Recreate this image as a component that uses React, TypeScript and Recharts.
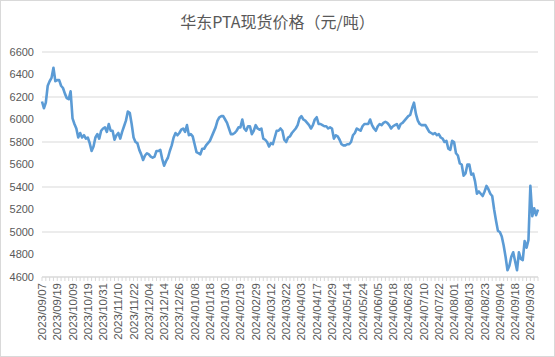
import React from "react";
import { LineChart, Line, XAxis, YAxis, CartesianGrid } from "recharts";

const title = "华东PTA现货价格（元/吨）";

const tickLabels = [
  "2023/09/07", "2023/09/19", "2023/10/09", "2023/10/19", "2023/10/31", "2023/11/10",
  "2023/11/22", "2023/12/04", "2023/12/14", "2023/12/26", "2024/01/08", "2024/01/18",
  "2024/01/30", "2024/02/19", "2024/02/29", "2024/03/12", "2024/03/22", "2024/04/03",
  "2024/04/17", "2024/04/29", "2024/05/14", "2024/05/24", "2024/06/05", "2024/06/18",
  "2024/06/28", "2024/07/10", "2024/07/22", "2024/08/01", "2024/08/13", "2024/08/23",
  "2024/09/04", "2024/09/18", "2024/09/30",
];

const prices = [
  6160, 6100, 6150, 6300, 6340, 6370, 6460, 6340, 6350, 6350,
  6300, 6280, 6230, 6190, 6180, 6250, 6010, 5960, 5920, 5840,
  5880, 5840, 5860, 5830, 5840, 5790, 5720, 5760, 5840, 5870,
  5830, 5900, 5920, 5930, 5890, 5960, 5900, 5900, 5820, 5860,
  5880, 5830, 5890, 5940, 5990, 6070, 6060, 5960, 5840, 5800,
  5790, 5730, 5690, 5640, 5680, 5700, 5690, 5670, 5660, 5670,
  5720, 5720, 5730, 5650, 5590, 5630, 5660, 5720, 5770, 5840,
  5880, 5860, 5880, 5910, 5920, 5890, 5950, 5860, 5870, 5850,
  5780, 5710, 5700, 5690, 5740, 5740, 5770, 5790, 5810, 5850,
  5890, 5930, 5990, 6020, 6030, 6030, 6000, 5970, 5920, 5870,
  5870, 5880, 5900, 5930, 5930, 6000, 5920, 5900, 5940, 5940,
  5870, 5900, 5950, 5920, 5910, 5920, 5830, 5820, 5800, 5760,
  5790, 5780, 5840, 5900, 5900, 5920, 5900, 5820, 5800, 5840,
  5850, 5880, 5900, 5920, 5950, 6010, 6030, 6000, 5990, 5970,
  5950, 5920, 5950, 6000, 6020, 5960, 5960, 5950, 5940, 5940,
  5920, 5930, 5920, 5830, 5860, 5850, 5820, 5780, 5770, 5770,
  5780, 5780, 5800, 5860, 5880, 5920, 5910, 5900, 5940, 5960,
  5960, 5960, 6000, 5950, 5920, 5900, 5940, 5960, 5950, 5970,
  5980, 5970, 5950, 5920, 5940, 5950, 5960, 5920, 5960, 5970,
  5990, 6010, 6030, 6040, 6100, 6150, 6050, 5990, 5960, 5950,
  5950, 5950, 5920, 5890, 5880, 5870, 5880, 5860, 5870, 5840,
  5830, 5800, 5810, 5740, 5730, 5810, 5800, 5700, 5680, 5610,
  5600, 5500, 5520, 5600, 5600, 5510, 5520, 5450, 5340, 5360,
  5340, 5320, 5360, 5410, 5380, 5340, 5320, 5200, 5100, 5010,
  5000, 4960, 4880, 4780, 4660, 4700, 4780, 4820, 4740, 4660,
  4820, 4760, 4750, 4920, 4860, 4930, 5410, 5140, 5210, 5150,
  5200,
];

const yTicks = [4600, 4800, 5000, 5200, 5400, 5600, 5800, 6000, 6200, 6400, 6600];

const data = prices.map((price, idx) => ({ idx, price }));

const axisFont = "'Liberation Sans', Arial, sans-serif";

const XTick = (props: any) => {
  const { x, y, payload } = props;
  const i = Number(payload.value);
  const elems: any[] = [];
  if (i % 2 === 0) {
    elems.push(<line key="l" x1={x} x2={x} y1={y} y2={y + 4} stroke="#d9d9d9" strokeWidth={1} />);
  }
  if (i % 8 === 0 && tickLabels[i / 8]) {
    const ty = y + 6;
    elems.push(
      <text
        key="t"
        x={x}
        y={ty}
        dy="0.35em"
        transform={`rotate(-90 ${x} ${ty})`}
        textAnchor="end"
        fontSize={11.5}
        fontFamily={axisFont}
        fill="#595959"
      >
        {tickLabels[i / 8]}
      </text>
    );
  }
  return <g>{elems}</g>;
};

export default function App() {
  return (
    <div style={{ position: "relative", width: 555, height: 357, background: "#fff" }}>
      <style>{`body{margin:0;}`}</style>
      <div
        style={{
          position: "absolute",
          top: 12,
          left: 0,
          width: 555,
          textAlign: "center",
          fontFamily: "'Noto Sans CJK SC', sans-serif",
          fontSize: 16,
          lineHeight: "18px",
          color: "#595959",
        }}
      >
        {title}
      </div>
      <LineChart
        width={555}
        height={357}
        data={data}
        margin={{ top: 52, right: 17, left: 0, bottom: 6 }}
      >
        <CartesianGrid vertical={false} stroke="#d9d9d9" />
        <XAxis
          dataKey="idx"
          type="category"
          interval={0}
          tick={<XTick />}
          tickLine={false}
          tickSize={0}
          tickMargin={0}
          height={74}
          axisLine={{ stroke: "#d9d9d9" }}
          padding={{ left: 0, right: 0 }}
        />
        <YAxis
          domain={[4600, 6600]}
          ticks={yTicks}
          width={42}
          axisLine={false}
          tickLine={false}
          tick={{ fontSize: 11, fill: "#595959", fontFamily: axisFont }}
        />
        <Line
          type="linear"
          dataKey="price"
          stroke="#5B9BD5"
          strokeWidth={2.6}
          dot={false}
          strokeLinejoin="round"
          isAnimationActive={false}
        />
      </LineChart>
      <div
        style={{
          position: "absolute",
          inset: 0,
          border: "1px solid #d9d9d9",
          pointerEvents: "none",
        }}
      />
    </div>
  );
}
